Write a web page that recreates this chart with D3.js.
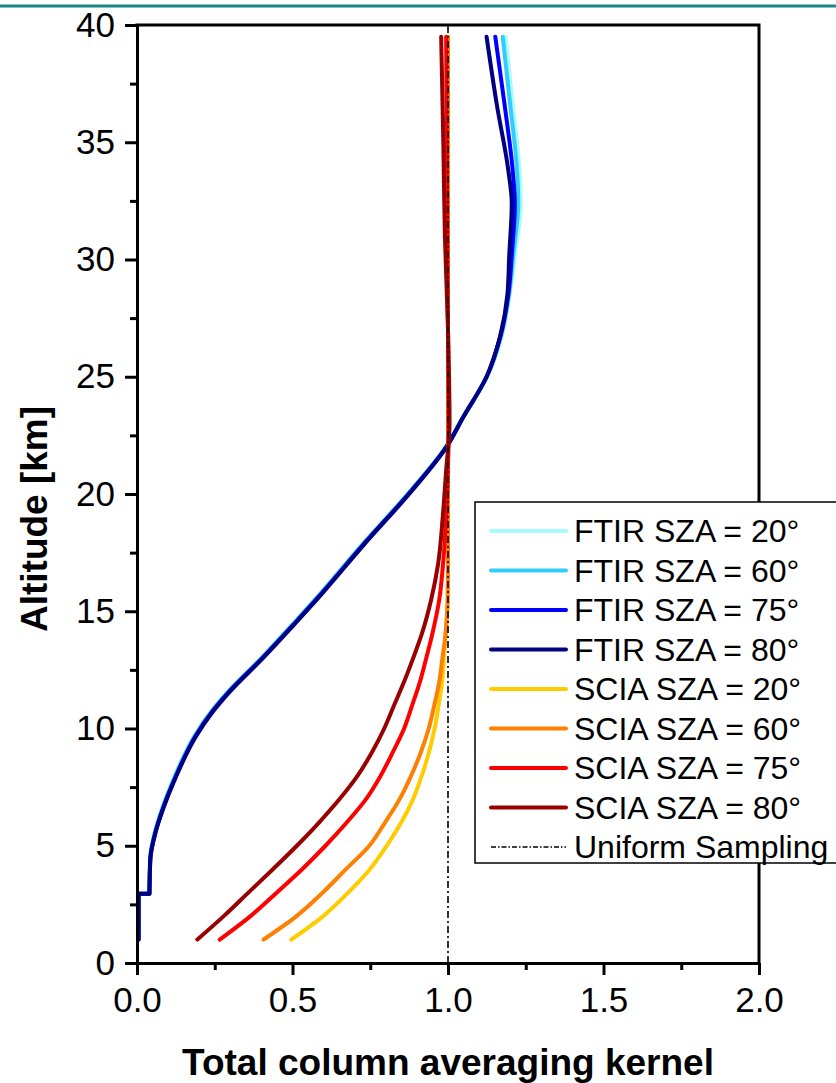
<!DOCTYPE html>
<html>
<head>
<meta charset="utf-8">
<script src="https://cdn.jsdelivr.net/npm/d3@7"></script>
<style>
  html, body { margin: 0; padding: 0; background: #fff; }
  svg { display: block; }
</style>
</head>
<body>
<div id="chart"></div>
<script>
// ---- data ----
const ftirAlt = [1.0, 2.95, 2.95, 4.45, 5.6, 6.5, 7.9, 9.65, 10.7, 11.55, 13.0, 14.5, 15.6, 17.8, 20.2, 22.0, 23.3, 25.0, 26.7, 28.5, 30.2, 32.4, 33.8, 36.6, 39.5];
const ftir20 = [0.005, 0.005, 0.04, 0.042, 0.058, 0.078, 0.119, 0.183, 0.237, 0.291, 0.399, 0.504, 0.579, 0.721, 0.883, 0.993, 1.05, 1.126, 1.172, 1.198, 1.215, 1.234, 1.23, 1.208, 1.185];
const ftir60 = [0.005, 0.005, 0.04, 0.042, 0.058, 0.079, 0.12, 0.184, 0.238, 0.292, 0.4, 0.505, 0.58, 0.722, 0.884, 0.993, 1.05, 1.125, 1.17, 1.196, 1.21, 1.226, 1.222, 1.2, 1.176];
const ftir75 = [0.005, 0.005, 0.04, 0.043, 0.06, 0.081, 0.123, 0.187, 0.241, 0.295, 0.403, 0.508, 0.583, 0.725, 0.886, 0.994, 1.05, 1.124, 1.168, 1.194, 1.205, 1.215, 1.208, 1.182, 1.152];
const ftir80 = [0.005, 0.005, 0.04, 0.043, 0.06, 0.082, 0.124, 0.189, 0.243, 0.297, 0.405, 0.51, 0.585, 0.727, 0.888, 0.995, 1.05, 1.124, 1.167, 1.191, 1.197, 1.205, 1.194, 1.157, 1.124];

const sciaAlt = [1, 2, 3, 4, 5, 6, 7, 8, 9, 10, 11, 12, 13, 14, 15.5, 17, 19, 21, 23, 27, 31, 35, 39.5];
const scia20 = [0.496, 0.599, 0.679, 0.749, 0.803, 0.85, 0.888, 0.916, 0.939, 0.957, 0.97, 0.981, 0.987, 0.992, 0.999, 1.0, 1.0, 1.0, 1.0, 1.0, 1.0, 1.0, 1.0];
const scia60 = [0.407, 0.513, 0.597, 0.672, 0.747, 0.798, 0.845, 0.882, 0.913, 0.938, 0.956, 0.972, 0.982, 0.992, 0.999, 1.0, 1.0, 1.0, 1.0, 1.0, 1.0, 1.0, 1.0];
const scia75 = [0.266, 0.365, 0.449, 0.531, 0.606, 0.675, 0.737, 0.784, 0.823, 0.859, 0.885, 0.91, 0.93, 0.949, 0.972, 0.984, 0.994, 1.0, 1.002, 1.0, 0.998, 0.996, 0.994];
const scia80 = [0.194, 0.279, 0.358, 0.437, 0.514, 0.586, 0.652, 0.71, 0.756, 0.795, 0.827, 0.859, 0.888, 0.915, 0.946, 0.968, 0.983, 0.994, 1.005, 1.0, 0.99, 0.985, 0.978];

const uniformX = [1.0, 1.0];
const uniformAlt = [0, 40];

const seriesNames = ["FTIR SZA = 20°", "FTIR SZA = 60°", "FTIR SZA = 75°", "FTIR SZA = 80°",
                     "SCIA SZA = 20°", "SCIA SZA = 60°", "SCIA SZA = 75°", "SCIA SZA = 80°"];
const seriesColors = ["#a6fbff", "#33ccff", "#0000ff", "#000080",
                      "#ffcc00", "#ff8000", "#ff0000", "#990000"];

const xTicks = [0, 0.5, 1.0, 1.5, 2.0];
const xMinorTicks = [0.25, 0.75, 1.25, 1.75];
const yTicks = [0, 5, 10, 15, 20, 25, 30, 35, 40];
const yMinorTicks = [2.5, 7.5, 12.5, 17.5, 22.5, 27.5, 32.5, 37.5];

// ---- layout ----
const width = 836, height = 1083;
const plot = { left: 137, right: 759, top: 25, bottom: 963 };
const FONT = "'Liberation Sans', Arial, sans-serif";

const svg = d3.select("#chart")
    .append("svg")
    .attr("width", width)
    .attr("height", height);

// thin teal rule across the top of the page
svg.append("line")
    .attr("x1", 0).attr("x2", width)
    .attr("y1", 6).attr("y2", 6)
    .attr("stroke", "#1a8785")
    .attr("stroke-width", 3);

const x = d3.scaleLinear().domain([0, 2]).range([plot.left, plot.right]);
const y = d3.scaleLinear().domain([0, 40]).range([plot.bottom, plot.top]);

// Lines
const line = d3.line()
    .x(d => x(d[0]))
    .y(d => y(d[1]));

const ftirSeries = [ftir20, ftir60, ftir75, ftir80];
const sciaSeries = [scia20, scia60, scia75, scia80];

const lines = svg.append("g");

function drawPath(points, curve, color) {
    lines.append("path")
        .datum(points)
        .attr("d", line.curve(curve))
        .attr("fill", "none")
        .attr("stroke", color)
        .attr("stroke-width", 4)
        .attr("stroke-linejoin", "round")
        .attr("stroke-linecap", "round");
}

ftirSeries.forEach((vals, i) => {
    const pts = vals.map((v, j) => [v, ftirAlt[j]]);
    // the step near 3 km is straight, the rest is a smooth profile
    const d = d3.line().x(p => x(p[0])).y(p => y(p[1]));
    const low = d.curve(d3.curveLinear)(pts.slice(0, 3));
    const high = d.curve(d3.curveMonotoneY)(pts.slice(2));
    lines.append("path")
        .attr("d", low + high.replace(/^M/, "L"))
        .attr("fill", "none")
        .attr("stroke", seriesColors[i])
        .attr("stroke-width", 4)
        .attr("stroke-linejoin", "round")
        .attr("stroke-linecap", "round");
});

sciaSeries.forEach((vals, i) => {
    drawPath(vals.map((v, j) => [v, sciaAlt[j]]), d3.curveMonotoneY, seriesColors[i + 4]);
});

lines.append("path")
    .datum(uniformX.map((v, j) => [v, uniformAlt[j]]))
    .attr("d", line.curve(d3.curveLinear))
    .attr("fill", "none")
    .attr("stroke", "#000")
    .attr("stroke-width", 1.6)
    .attr("stroke-dasharray", "7,3,2,3");

// Axes
const xAxis = svg.append("g")
    .attr("transform", `translate(0,${plot.bottom})`)
    .call(d3.axisBottom(x).tickValues(xTicks).tickSize(12).tickSizeOuter(0).tickPadding(12)
        .tickFormat(d3.format(".1f")));

svg.append("g")
    .attr("transform", `translate(0,${plot.bottom})`)
    .call(d3.axisBottom(x).tickValues(xMinorTicks).tickSize(7).tickSizeOuter(0).tickFormat(""))
    .select(".domain").remove();

const yAxis = svg.append("g")
    .attr("transform", `translate(${plot.left},0)`)
    .call(d3.axisLeft(y).tickValues(yTicks).tickSize(12).tickSizeOuter(0).tickPadding(10));

svg.append("g")
    .attr("transform", `translate(${plot.left},0)`)
    .call(d3.axisLeft(y).tickValues(yMinorTicks).tickSize(7).tickSizeOuter(0).tickFormat(""))
    .select(".domain").remove();

svg.selectAll(".domain, .tick line")
    .attr("stroke", "#000")
    .attr("stroke-width", 3);

[xAxis, yAxis].forEach(ax => ax.selectAll("text")
    .style("font-family", FONT)
    .style("font-size", "35px")
    .attr("fill", "#000"));

// Frame: top and right
svg.append("path")
    .attr("d", `M${plot.left},${plot.top}H${plot.right}V${plot.bottom}`)
    .attr("fill", "none")
    .attr("stroke", "#000")
    .attr("stroke-width", 3)
    .attr("stroke-linecap", "square");

// Axis titles
svg.append("text")
    .attr("x", (plot.left + plot.right) / 2)
    .attr("y", 1075)
    .attr("text-anchor", "middle")
    .style("font-family", FONT)
    .style("font-weight", "bold")
    .style("font-size", "37px")
    .text("Total column averaging kernel");

svg.append("text")
    .attr("transform", "translate(47,519) rotate(-90)")
    .attr("text-anchor", "middle")
    .style("font-family", FONT)
    .style("font-weight", "bold")
    .style("font-size", "37px")
    .text("Altitude [km]");

// Legend
const legend = svg.append("g");
legend.append("rect")
    .attr("x", 475).attr("y", 502)
    .attr("width", 380).attr("height", 361)
    .attr("fill", "#fff")
    .attr("stroke", "#000")
    .attr("stroke-width", 1.5);

const legendNames = seriesNames.concat(["Uniform Sampling"]);
legendNames.forEach((name, i) => {
    const cy = 531 + i * 39.5;
    const row = legend.append("g");
    row.append("line")
        .attr("x1", 491).attr("x2", 566)
        .attr("y1", cy).attr("y2", cy)
        .attr("stroke", i < 8 ? seriesColors[i] : "#000")
        .attr("stroke-width", i < 8 ? 4 : 1.3)
        .attr("stroke-linecap", i < 8 ? "round" : "butt")
        .attr("stroke-dasharray", i < 8 ? null : "5,2,1.5,2");
    row.append("text")
        .attr("x", 574)
        .attr("y", cy + 11)
        .style("font-family", FONT)
        .style("font-size", "32px")
        .text(name);
});
</script>
</body>
</html>
